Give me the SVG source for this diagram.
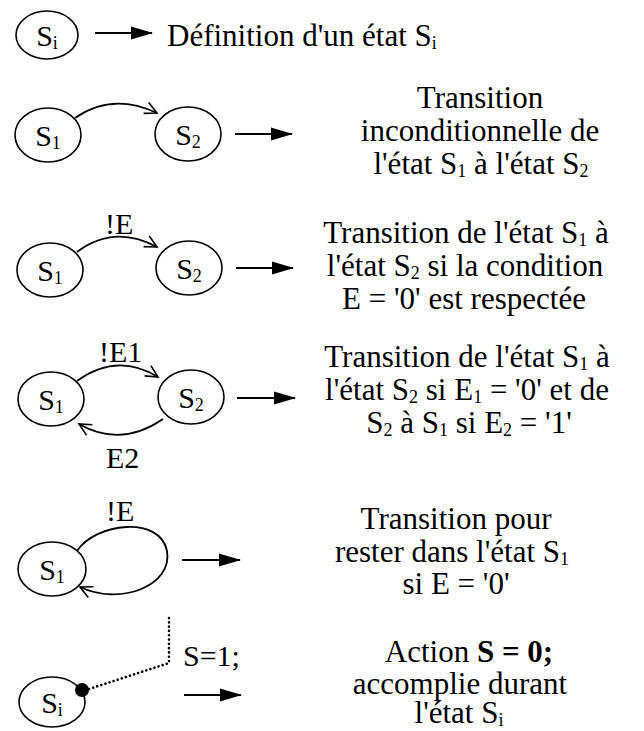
<svg xmlns="http://www.w3.org/2000/svg" width="644" height="731" viewBox="0 0 644 731">
<style>
text{font-family:"Liberation Serif","Times New Roman",serif;font-size:31px;fill:#000}
.st ellipse{fill:none;stroke:#000;stroke-width:1.6}
.lbl{font-size:30px}
.sub{font-size:18px}
.edge{fill:none;stroke:#000;stroke-width:1.8}
.big{fill:none;stroke:#000;stroke-width:2}
.dot{fill:none;stroke:#000;stroke-width:2.6;stroke-linecap:round;stroke-dasharray:0.1 4.2}
</style>
<defs>
<marker id="fa" markerWidth="22" markerHeight="14" refX="21" refY="7" orient="auto" markerUnits="userSpaceOnUse"><path d="M0,0.5 L22,7 L0,13.5 z" fill="#000"/></marker>
<marker id="oa" markerWidth="16" markerHeight="16" refX="13" refY="7" orient="auto" markerUnits="userSpaceOnUse"><path d="M1,1 L13,7 L1,13" fill="none" stroke="#000" stroke-width="1.6"/></marker>
</defs>

<!-- Row 1 -->
<g id="r1-si" class="st"><ellipse cx="47" cy="35" rx="31" ry="24"/><text class="lbl" x="47" y="46" text-anchor="middle">S<tspan class="sub" dy="3">i</tspan></text></g>
<text x="167" y="46">Définition d'un état S<tspan class="sub" dy="3">i</tspan></text>

<!-- Row 2 -->
<g id="r2-s1" class="st"><ellipse cx="48" cy="135" rx="33" ry="27"/><text class="lbl" x="48" y="146" text-anchor="middle">S<tspan class="sub" dy="3">1</tspan></text></g>
<g id="r2-s2" class="st"><ellipse cx="188" cy="134" rx="33" ry="27"/><text class="lbl" x="188" y="145" text-anchor="middle">S<tspan class="sub" dy="3">2</tspan></text></g>
<text x="480" y="108" text-anchor="middle">Transition</text>
<text x="480" y="141" text-anchor="middle">inconditionnelle de</text>
<text x="481" y="174" text-anchor="middle">l'état S<tspan class="sub" dy="3">1</tspan><tspan dy="-3"> à l'état S</tspan><tspan class="sub" dy="3">2</tspan></text>

<!-- Row 3 -->
<g id="r3-s1" class="st"><ellipse cx="50" cy="270" rx="33" ry="27"/><text class="lbl" x="50" y="281" text-anchor="middle">S<tspan class="sub" dy="3">1</tspan></text></g>
<g id="r3-s2" class="st"><ellipse cx="189" cy="268" rx="33" ry="27"/><text class="lbl" x="189" y="279" text-anchor="middle">S<tspan class="sub" dy="3">2</tspan></text></g>
<text class="lbl" x="105" y="234">!E</text>
<text x="466" y="243" text-anchor="middle">Transition de l'état S<tspan class="sub" dy="3">1</tspan><tspan dy="-3"> à</tspan></text>
<text x="465" y="276" text-anchor="middle">l'état S<tspan class="sub" dy="3">2</tspan><tspan dy="-3"> si la condition</tspan></text>
<text x="464" y="309" text-anchor="middle">E = '0' est respectée</text>

<!-- Row 4 -->
<g id="r4-s1" class="st"><ellipse cx="51" cy="399" rx="33" ry="27"/><text class="lbl" x="51" y="410" text-anchor="middle">S<tspan class="sub" dy="3">1</tspan></text></g>
<g id="r4-s2" class="st"><ellipse cx="191" cy="397" rx="33" ry="27"/><text class="lbl" x="191" y="408" text-anchor="middle">S<tspan class="sub" dy="3">2</tspan></text></g>
<text class="lbl" x="99" y="362">!E1</text>
<text class="lbl" x="106" y="468">E2</text>
<text x="467" y="367" text-anchor="middle">Transition de l'état S<tspan class="sub" dy="3">1</tspan><tspan dy="-3"> à</tspan></text>
<text x="467" y="400" text-anchor="middle">l'état S<tspan class="sub" dy="3">2</tspan><tspan dy="-3"> si E</tspan><tspan class="sub" dy="3">1</tspan><tspan dy="-3"> = '0' et de</tspan></text>
<text x="469" y="433" text-anchor="middle">S<tspan class="sub" dy="3">2</tspan><tspan dy="-3"> à S</tspan><tspan class="sub" dy="3">1</tspan><tspan dy="-3"> si E</tspan><tspan class="sub" dy="3">2</tspan><tspan dy="-3"> = '1'</tspan></text>

<!-- Row 5 -->
<g id="r5-s1" class="st"><ellipse cx="52" cy="569" rx="34" ry="27"/><text class="lbl" x="52" y="580" text-anchor="middle">S<tspan class="sub" dy="3">1</tspan></text></g>
<text class="lbl" x="106" y="521">!E</text>
<text x="456" y="529" text-anchor="middle">Transition pour</text>
<text x="452" y="562" text-anchor="middle">rester dans l'état S<tspan class="sub" dy="3">1</tspan></text>
<text x="456" y="594" text-anchor="middle">si E = '0'</text>

<!-- Row 6 -->
<g id="r6-si" class="st"><ellipse cx="52" cy="702" rx="33" ry="25"/><text class="lbl" x="52" y="713" text-anchor="middle">S<tspan class="sub" dy="3">i</tspan></text></g>
<text class="lbl" x="183" y="666">S=1;</text>
<text x="469" y="662" text-anchor="middle">Action <tspan font-weight="bold">S = 0;</tspan></text>
<text x="460" y="694" text-anchor="middle">accomplie durant</text>
<text x="459" y="723" text-anchor="middle">l'état S<tspan class="sub" dy="3">i</tspan></text>

<g id="connectors">
<path class="big" marker-end="url(#fa)" d="M95,33 H152"/>
<path class="big" marker-end="url(#fa)" d="M235,134 H292"/>
<path class="big" marker-end="url(#fa)" d="M236,268 H293"/>
<path class="big" marker-end="url(#fa)" d="M237,398 H295"/>
<path class="big" marker-end="url(#fa)" d="M182,560 H240"/>
<path class="big" marker-end="url(#fa)" d="M184,695 H241"/>
<path class="edge" marker-end="url(#oa)" d="M75,118 Q112,92 157,113"/>
<path class="edge" marker-end="url(#oa)" d="M77,252 Q114,224 157,247"/>
<path class="edge" marker-end="url(#oa)" d="M77,381 Q117,352 158,377"/>
<path class="edge" marker-end="url(#oa)" d="M163,419 Q121,448 79,424"/>
<path class="edge" marker-end="url(#oa)" d="M77,551 C95,523 160,515 167,551 C173,586 120,606 80,587"/>
<path class="dot" d="M169,618 V663 L86,690"/>
<circle cx="82" cy="690" r="7" fill="#000"/>
</g>
</svg>
